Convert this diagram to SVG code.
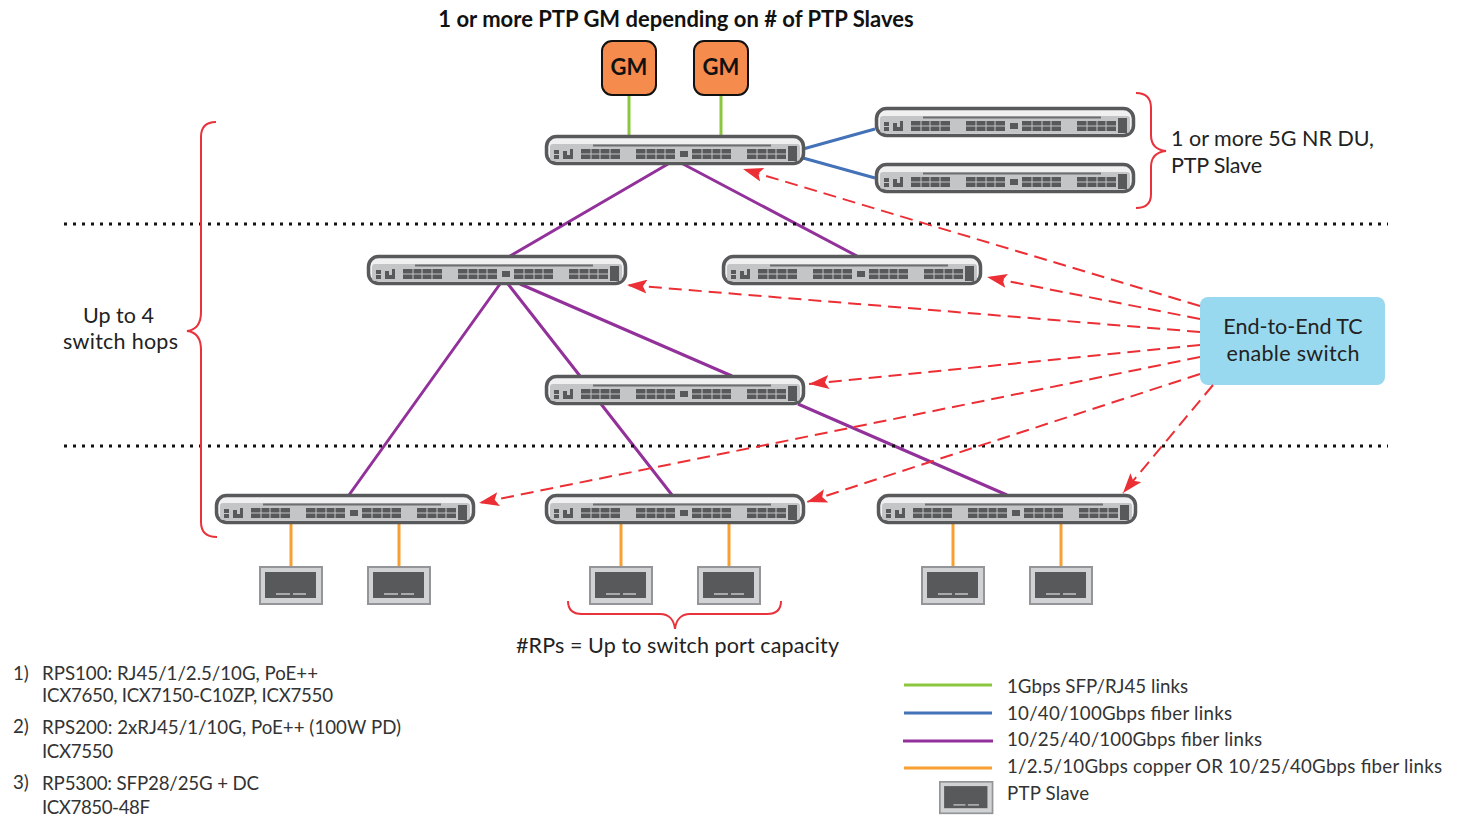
<svg xmlns="http://www.w3.org/2000/svg" width="1460" height="817" viewBox="0 0 1460 817">
<style>
text{font-family:Lato,"Open Sans","Liberation Sans",sans-serif;font-size:21.5px;fill:#222}
.t{font-size:18.7px;fill:#333}
.b{font-weight:700;font-size:22px;fill:#111}
.c{text-anchor:middle}
.g{stroke:#8cc63f;stroke-width:3;fill:none}
.bl{stroke:#4472b8;stroke-width:3;fill:none}
.p{stroke:#93319b;stroke-width:3;fill:none}
.o{stroke:#f7a031;stroke-width:3;fill:none}
.r{stroke:#ec2f35;stroke-width:2;fill:none;stroke-dasharray:13 7}
.br{stroke:#e8323c;stroke-width:2;fill:none}
.dot{stroke:#111;stroke-width:3;stroke-dasharray:3 6;fill:none}
</style>
<defs>
<marker id="ah" markerWidth="20" markerHeight="14" refX="20" refY="7" orient="auto" markerUnits="userSpaceOnUse" viewBox="0 0 20 14"><path d="M0 0L20 7L0 14L4 7Z" fill="#ec2f35"/></marker>
<g id="sw">
<rect x="1.500" y="1.500" width="257" height="27" rx="10" fill="#f0f0f1" stroke="#58595b" stroke-width="3.500"/>
<rect x="5" y="9" width="250" height="17" rx="3" fill="#c4c5c7"/>
<path d="M48 10.500H226" stroke="#6d6e71" stroke-width="2"/>
<path d="M9 15h5v4H9zM9 20h5v4H9zM18 16h4v4h-4zM18 20h10v4H18zM25 14h3v7h-3z" fill="#58595b"/>
<g fill="#58595b"><rect x="36" y="14" width="39" height="10"/><rect x="91" y="14" width="39" height="10"/><rect x="135" y="16" width="8" height="6"/><rect x="147" y="14" width="39" height="10"/><rect x="202" y="14" width="39" height="10"/><rect x="243" y="11" width="9" height="15"/></g>
<path d="M46 14v10M55 14v10M65 14v10M101 14v10M111 14v10M120 14v10M157 14v10M167 14v10M176 14v10M212 14v10M222 14v10M231 14v10M36 19h39M91 19h39M147 19h39M202 19h39" stroke="#c4c5c7" stroke-width="1"/>
</g>
<g id="sl">
<rect x="1" y="1" width="62" height="37" fill="#d1d2d4" stroke="#939598" stroke-width="2"/>
<rect x="6" y="6" width="51" height="26" fill="#58595b"/>
<path d="M17 28h14M34 28h13" stroke="#a7a9ac" stroke-width="2"/>
</g>
</defs>
<g id="connectors">
<path class="g" d="M629 95V136M721 95V136"/>
<path class="bl" d="M803 149L875 129M803 158L875 178"/>
<path class="p" d="M668 164L510 256M683 164L857 256M500 284L349 495M508 284L580 376M520 284L732 376M601 404L672 495M798 404L1007 495"/>
<path class="o" d="M291 524V567M399 524V567M621 524V567M729 524V567M953 524V567M1061 524V567"/>
<path class="dot" d="M64 224H1388M64 446H1388"/>
</g>
<g id="brackets">
<path class="br" d="M216 122C206 122 201 127 201 137V312C201 324 196 330 187 331C196 332 201 338 201 350V522C201 532 206 537 217 537"/>
<path class="br" d="M1136 93C1146 93 1151 98 1151 108V135C1151 145 1156 150 1166 151C1156 152 1151 157 1151 167V194C1151 204 1146 208 1136 208"/>
<path class="br" d="M568 601C568 610 573 614 582 614H660C669 614 674 620 675 629C676 620 681 614 690 614H767C776 614 781 610 781 601"/>
</g>
<text class="b c" x="676" y="27">1 or more PTP GM depending on # of PTP Slaves</text>
<g id="gm1"><rect x="602" y="41" width="54" height="54" rx="10" fill="#f58b4c" stroke="#111" stroke-width="2"/><text class="b c" x="629" y="75">GM</text></g>
<g id="gm2"><rect x="694" y="41" width="54" height="54" rx="10" fill="#f58b4c" stroke="#111" stroke-width="2"/><text class="b c" x="721" y="75">GM</text></g>
<g id="s1"><use href="#sw" x="545" y="135"/></g>
<g id="s2"><use href="#sw" x="875" y="107"/></g>
<g id="s3"><use href="#sw" x="875" y="163"/></g>
<g id="s4"><use href="#sw" x="367" y="255"/></g>
<g id="s5"><use href="#sw" x="722" y="255"/></g>
<g id="s6"><use href="#sw" x="545" y="375"/></g>
<g id="s7"><use href="#sw" x="215" y="494"/></g>
<g id="s8"><use href="#sw" x="545" y="494"/></g>
<g id="s9"><use href="#sw" x="877" y="494"/></g>
<g id="p1"><use href="#sl" x="259" y="566"/></g>
<g id="p2"><use href="#sl" x="367" y="566"/></g>
<g id="p3"><use href="#sl" x="589" y="566"/></g>
<g id="p4"><use href="#sl" x="697" y="566"/></g>
<g id="p5"><use href="#sl" x="921" y="566"/></g>
<g id="p6"><use href="#sl" x="1029" y="566"/></g>
<g id="tc"><rect x="1200" y="297" width="185" height="88" rx="8" fill="#99d9ef"/><text class="c" x="1293" y="334">End-to-End TC</text><text class="c" x="1293" y="361" textLength="133">enable switch</text></g>
<g id="arrows">
<path class="r" marker-end="url(#ah)" d="M1200 306L743 169"/>
<path class="r" marker-end="url(#ah)" d="M1200 319L987 277"/>
<path class="r" marker-end="url(#ah)" d="M1200 332L627 285"/>
<path class="r" marker-end="url(#ah)" d="M1200 345L809 384"/>
<path class="r" marker-end="url(#ah)" d="M1200 357L479 503"/>
<path class="r" marker-end="url(#ah)" d="M1200 374L807 502"/>
<path class="r" marker-end="url(#ah)" d="M1213 385L1123 493"/>
</g>
<text x="1171" y="146" textLength="203">1 or more 5G NR DU,</text>
<text x="1171" y="173" textLength="91">PTP Slave</text>
<text x="83" y="323" textLength="71">Up to 4</text>
<text x="63" y="349" textLength="115">switch hops</text>
<text x="516" y="653" textLength="323">#RPs = Up to switch port capacity</text>
<g id="notes">
<text class="t" x="13" y="680">1)</text><text class="t" x="42" y="680" textLength="276">RPS100: RJ45/1/2.5/10G, PoE++</text><text class="t" x="42" y="702" textLength="291">ICX7650, ICX7150-C10ZP, ICX7550</text>
<text class="t" x="13" y="733">2)</text><text class="t" x="42" y="734" textLength="359">RPS200: 2xRJ45/1/10G, PoE++ (100W PD)</text><text class="t" x="42" y="758" textLength="71">ICX7550</text>
<text class="t" x="13" y="789">3)</text><text class="t" x="42" y="790" textLength="217">RP5300: SFP28/25G + DC</text><text class="t" x="42" y="814" textLength="108">ICX7850-48F</text>
</g>
<g id="legend">
<path class="g" d="M904 685H992"/><path class="bl" d="M904 713H992"/><path class="p" d="M903 741H993"/><path class="o" d="M904 768H992"/>
<use href="#sl" transform="translate(939 781) scale(.85)"/>
<text class="t" x="1007" y="693" textLength="181">1Gbps SFP/RJ45 links</text>
<text class="t" x="1007" y="720" textLength="225">10/40/100Gbps fiber links</text>
<text class="t" x="1007" y="746" textLength="255">10/25/40/100Gbps fiber links</text>
<text class="t" x="1007" y="773" textLength="435">1/2.5/10Gbps copper OR 10/25/40Gbps fiber links</text>
<text class="t" x="1007" y="800" textLength="82">PTP Slave</text>
</g>
</svg>
